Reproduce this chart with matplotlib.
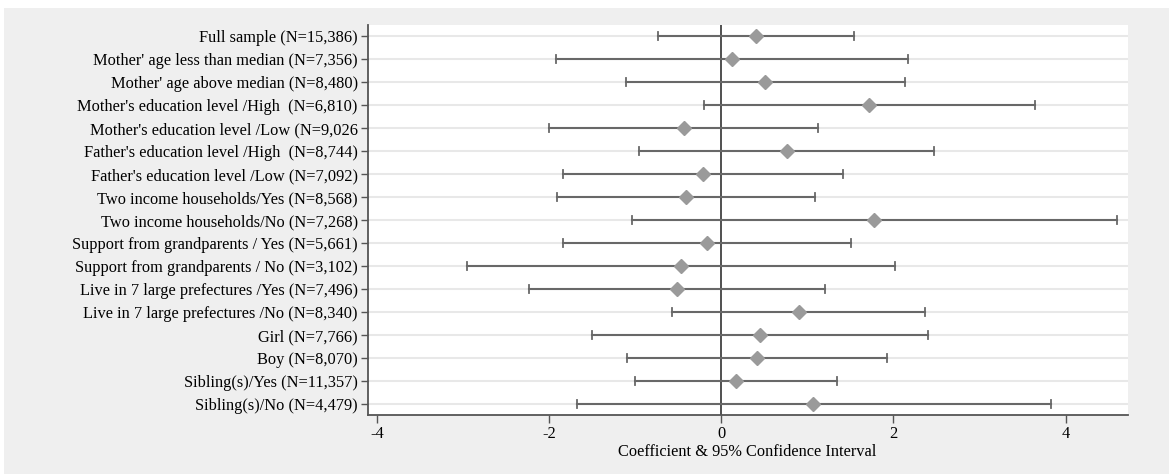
import matplotlib.pyplot as plt
from matplotlib.patches import Rectangle

# subgroup labels (top to bottom)
labels = [
    "Full sample (N=15,386)",
    "Mother' age less than median (N=7,356)",
    "Mother' age above median (N=8,480)",
    "Mother's education level /High  (N=6,810)",
    "Mother's education level /Low (N=9,026",
    "Father's education level /High  (N=8,744)",
    "Father's education level /Low (N=7,092)",
    "Two income households/Yes (N=8,568)",
    "Two income households/No (N=7,268)",
    "Support from grandparents / Yes (N=5,661)",
    "Support from grandparents / No (N=3,102)",
    "Live in 7 large prefectures /Yes (N=7,496)",
    "Live in 7 large prefectures /No (N=8,340)",
    "Girl (N=7,766)",
    "Boy (N=8,070)",
    "Sibling(s)/Yes (N=11,357)",
    "Sibling(s)/No (N=4,479)",
]
coef = [0.40, 0.12, 0.51, 1.72, -0.43, 0.76, -0.21, -0.41, 1.78,
        -0.16, -0.47, -0.51, 0.90, 0.45, 0.41, 0.17, 1.07]
ci_low = [-0.74, -1.92, -1.11, -0.20, -2.00, -0.95, -1.84, -1.91, -1.04,
          -1.84, -2.95, -2.23, -0.57, -1.50, -1.10, -1.00, -1.68]
ci_high = [1.54, 2.17, 2.14, 3.65, 1.12, 2.47, 1.42, 1.09, 4.60,
           1.51, 2.02, 1.20, 2.37, 2.40, 1.93, 1.35, 3.83]
xticks = [-4, -2, 0, 2, 4]

plt.rcParams['font.family'] = ['Liberation Serif', 'DejaVu Serif']

W, H = 1169, 474
fig = plt.figure(figsize=(W / 100, H / 100), dpi=100, facecolor='white')
# light gray graph region
fig.patches.append(Rectangle((4 / W, 0), 1, (H - 8) / H, transform=fig.transFigure,
                             facecolor='#efefef', edgecolor='none', zorder=-10))

ax = fig.add_axes([367.5 / W, 1 - 415 / H, (1127.5 - 367.5) / W, (415 - 25) / H])
ax.set_facecolor('white')

n = len(labels)
ypos = list(range(n, 0, -1))

# horizontal grid lines
for y in ypos:
    ax.axhline(y, color='#e8e8e8', lw=1.5, zorder=0)
ax.axvline(0, color='#505050', lw=1.4, zorder=1)

for y, c, lo, hi in zip(ypos, coef, ci_low, ci_high):
    ax.plot([lo, hi], [y, y], color='#686868', lw=1.5, zorder=2)
    ax.plot([lo, lo], [y - 0.17, y + 0.17], color='#686868', lw=1.3, zorder=2)
    ax.plot([hi, hi], [y - 0.17, y + 0.17], color='#686868', lw=1.3, zorder=2)
    ax.plot(c, y, marker='D', color='#9a9a9a', markersize=7.5, zorder=3, linestyle='none')

ax.set_xlim(-4.11, 4.72)
ax.set_ylim(0.53, n + 0.47)
ax.set_yticks(ypos)
ax.set_yticklabels(labels, fontsize=11.8)
ax.set_xticks(xticks)
ax.set_xticklabels([str(t) for t in xticks], fontsize=11.8)
ax.set_xlabel('Coefficient & 95% Confidence Interval', fontsize=11.8, labelpad=1)

for s in ['top', 'right']:
    ax.spines[s].set_visible(False)
for s in ['left', 'bottom']:
    ax.spines[s].set_color('#555555')
    ax.spines[s].set_linewidth(1.3)
ax.tick_params(axis='y', length=5, width=1, color='#555555', pad=2)
ax.tick_params(axis='x', length=6, width=1, color='#555555', pad=2)

fig.savefig('out.png', dpi=100, facecolor=fig.get_facecolor())
